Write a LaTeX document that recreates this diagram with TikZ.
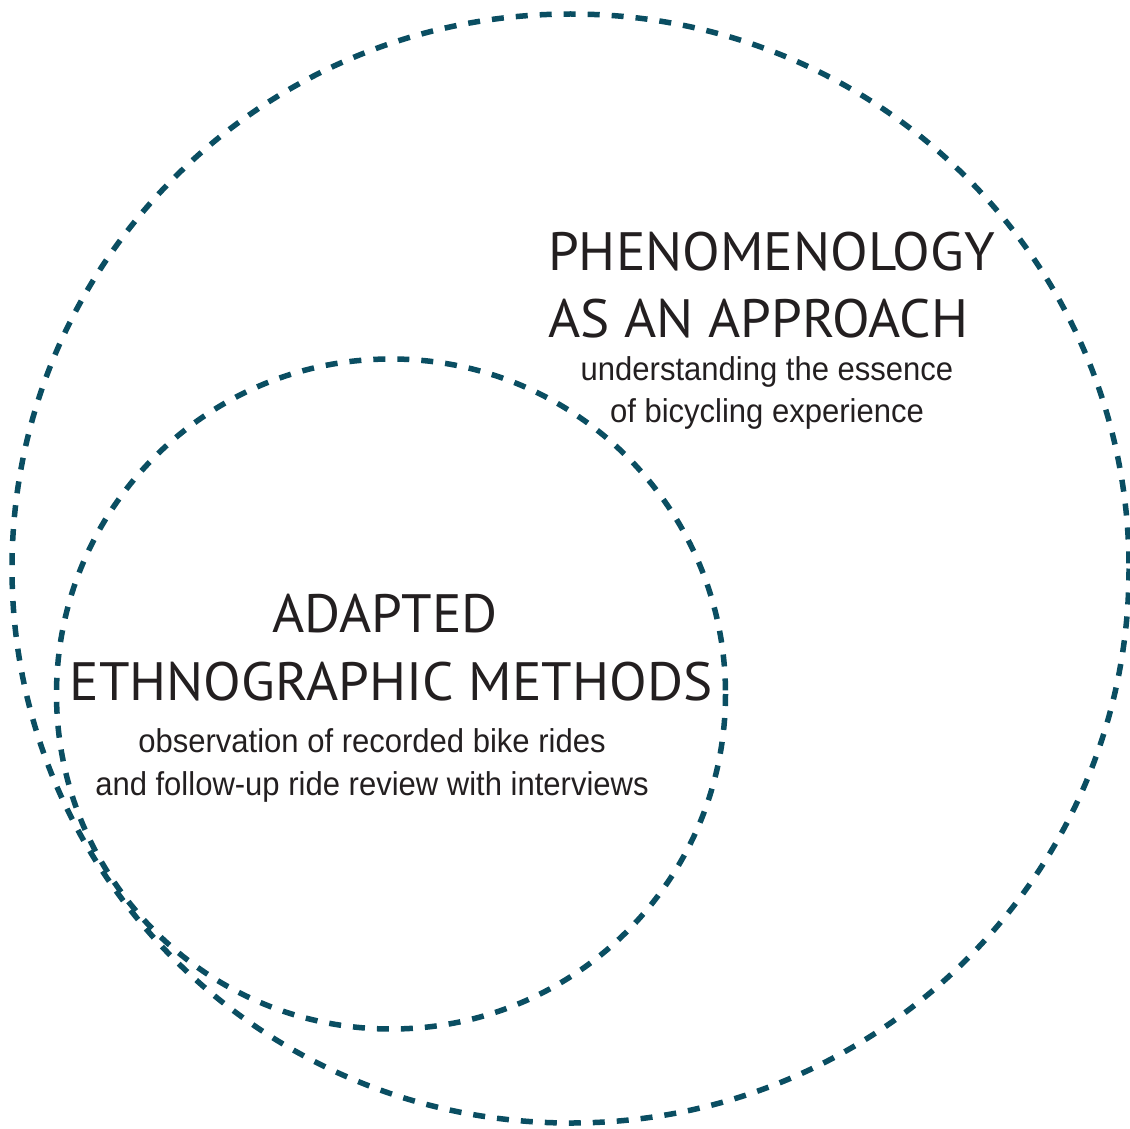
\documentclass[tikz,border=0pt]{standalone}
\usepackage{fontspec}
\setmainfont{PT Sans}[FakeStretch=1.02]
\newfontfamily\subfont[FakeStretch=0.94]{Liberation Sans}
\definecolor{ringcol}{RGB}{10,78,98}
\definecolor{txtcol}{RGB}{35,31,32}
\begin{document}
\begin{tikzpicture}[x=1pt,y=-1pt,
  ring/.style={draw=ringcol,line width=5.5pt,dash pattern=on 12pt off 12pt},
  title/.style={inner sep=0pt,text=txtcol,font=\fontsize{54}{60}\selectfont},
  sub/.style={inner sep=0pt,text=txtcol,font=\subfont\fontsize{33}{36}\selectfont}]
\useasboundingbox[fill=white] (0,0) rectangle (1130,1129);
\draw[ring] (570.5,568.5) ellipse [x radius=558.5,y radius=554.5];
\draw[ring] (391,694) ellipse [x radius=334.5,y radius=335];
\node[title,anchor=base west] (p1) at (548,270) {PHENOMENOLOGY};
\node[title,anchor=base west] (p2) at (548,337) {AS AN APPROACH};
\node[sub,anchor=base] (p3) at (767,380) {understanding the essence};
\node[sub,anchor=base] (p4) at (767,422) {of bicycling experience};
\node[title,anchor=base] (e1) at (385,632) {ADAPTED};
\node[title,anchor=base] (e2) at (391,700) {ETHNOGRAPHIC METHODS};
\node[sub,anchor=base] (e3) at (372,752) {observation of recorded bike rides};
\node[sub,anchor=base] (e4) at (372,795) {and follow-up ride review with interviews};
\end{tikzpicture}
\end{document}
